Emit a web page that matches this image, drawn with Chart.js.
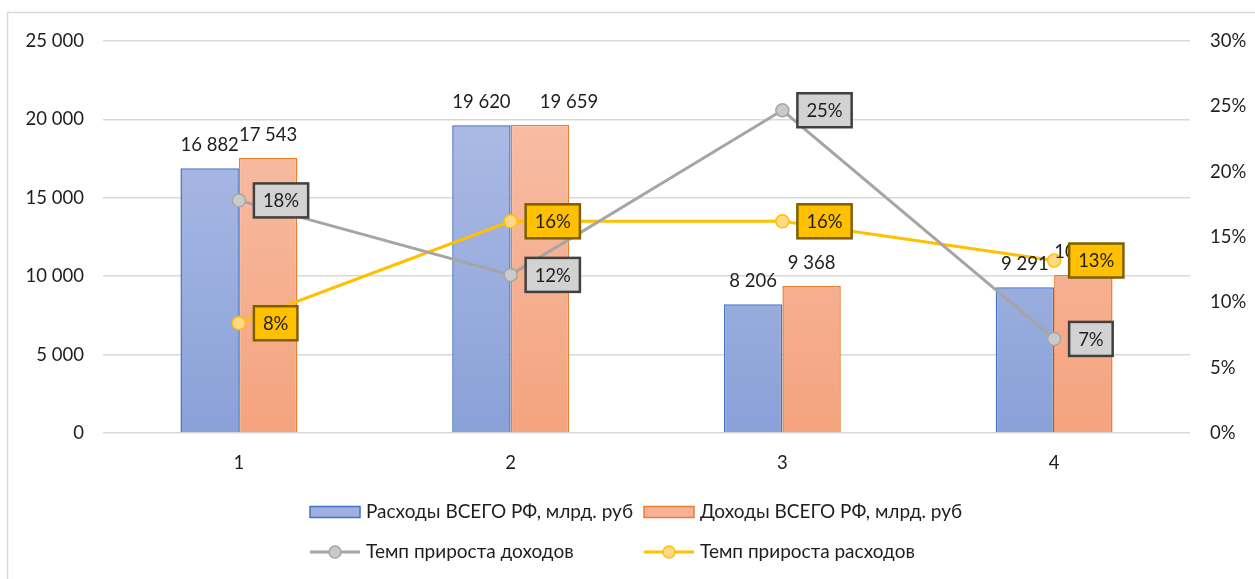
<!DOCTYPE html>
<html><head><meta charset="utf-8">
<script src="https://cdn.jsdelivr.net/npm/chart.js@4/dist/chart.umd.min.js"></script>
<style>html,body{margin:0;padding:0;background:#fff;overflow:hidden;}</style>
</head><body>
<canvas id="c" width="1255" height="579" style="width:1255px;height:579px;display:block"></canvas>
<script>
const categories = ['1', '2', '3', '4'];
const expenses = [16882, 19620, 8206, 9291];
const revenues = [17543, 19659, 9368, 10077];
const revenueGrowth = [17.8, 12.1, 24.7, 7.2];
const expenseGrowth = [8.4, 16.2, 16.2, 13.2];
const seriesNames = ['Расходы ВСЕГО РФ, млрд. руб', 'Доходы ВСЕГО РФ, млрд. руб', 'Темп прироста доходов', 'Темп прироста расходов'];
const leftTicks = [0, 5000, 10000, 15000, 20000, 25000];
const rightTicks = [0, 5, 10, 15, 20, 25, 30];

const FONT = 'Lato, "Open Sans", sans-serif';
const TXT = '#1e1e1e';
const fmt = n => String(n).replace(/\B(?=(\d{3})+(?!\d))/g, ' ');

function vGrad(ctx, area, top, bottom) {
  if (!area) return bottom;
  const g = ctx.createLinearGradient(0, area.top, 0, area.bottom);
  g.addColorStop(0, top); g.addColorStop(1, bottom);
  return g;
}

const drawPlugin = {
  id: 'extras',
  beforeDraw(chart) {
    const c = chart.ctx;
    c.save();
    c.strokeStyle = '#d9d9d9'; c.lineWidth = 1.5;
    c.beginPath(); c.moveTo(7.5, 579); c.lineTo(7.5, 12.5); c.lineTo(1255, 12.5); c.stroke();
    c.restore();
  },
  afterDatasetsDraw(chart) {
    const c = chart.ctx;
    c.save();
    // bar value labels (second label moved right when it would collide with the first)
    c.font = '18.5px ' + FONT; c.fillStyle = TXT; c.textBaseline = 'middle';
    const m0 = chart.getDatasetMeta(0), m1 = chart.getDatasetMeta(1);
    m0.data.forEach((el0, i) => {
      const el1 = m1.data[i];
      const t0 = fmt(chart.data.datasets[0].data[i]), t1 = fmt(chart.data.datasets[1].data[i]);
      const w0 = c.measureText(t0).width, w1 = c.measureText(t1).width;
      const y0 = el0.y - 23, y1 = el1.y - 23;
      c.textAlign = 'center';
      c.fillText(t0, el0.x, y0);
      const overlap = Math.abs(y0 - y1) < 6 && (el1.x - w1 / 2) < (el0.x + w0 / 2 + 6);
      if (overlap) { c.textAlign = 'left'; c.fillText(t1, el1.x, y1); }
      else { c.fillText(t1, el1.x, y1); }
    });
    // line labels boxes
    const styles = { 2: { fill: '#d2d2d2', stroke: '#404040' }, 3: { fill: '#ffc000', stroke: '#7f6000' } };
    [2, 3].forEach(di => {
      const meta = chart.getDatasetMeta(di);
      meta.data.forEach((el, i) => {
        const t = Math.round(chart.data.datasets[di].data[i]) + '%';
        c.font = '18.5px ' + FONT;
        const w = c.measureText(t).width + 18, h = 34;
        const x = el.x + 15, y = el.y - h / 2;
        c.fillStyle = styles[di].fill; c.fillRect(x, y, w, h);
        c.strokeStyle = styles[di].stroke; c.lineWidth = 2.5; c.strokeRect(x, y, w, h);
        c.fillStyle = TXT; c.textAlign = 'center'; c.textBaseline = 'middle';
        c.fillText(t, x + w / 2, y + h / 2 + 1);
      });
    });
    c.restore();
  },
  afterDraw(chart) {
    const c = chart.ctx;
    c.save();
    c.font = '19px ' + FONT; c.fillStyle = TXT; c.textAlign = 'left'; c.textBaseline = 'middle';
    const cols = [310, 644], rows = [512, 552];
    chart.data.datasets.forEach((ds, i) => {
      const x = cols[i % 2], y = rows[Math.floor(i / 2)];
      if (ds.type === 'bar') {
        c.fillStyle = i === 0 ? '#9fb0de' : '#f6b196';
        c.fillRect(x, y - 5.5, 50, 11);
        c.strokeStyle = ds.borderColor; c.lineWidth = 1.5; c.strokeRect(x, y - 5.5, 50, 11);
      } else {
        c.strokeStyle = ds.borderColor; c.lineWidth = 3;
        c.beginPath(); c.moveTo(x, y); c.lineTo(x + 50, y); c.stroke();
        c.beginPath(); c.arc(x + 25, y, 6, 0, Math.PI * 2);
        c.fillStyle = ds.pointBackgroundColor; c.fill();
        c.lineWidth = 1.5; c.strokeStyle = ds.pointBorderColor; c.stroke();
      }
      c.fillStyle = TXT;
      c.fillText(ds.label, x + 56, y);
    });
    c.restore();
  }
};

new Chart(document.getElementById('c'), {
  data: {
    labels: categories,
    datasets: [
      { type: 'bar', label: seriesNames[0], data: expenses, yAxisID: 'y', order: 2,
        backgroundColor: ctx => vGrad(ctx.chart.ctx, ctx.chart.chartArea, '#b3c0e8', '#8aa1d8'),
        borderColor: '#4472c4', borderWidth: 1.5, categoryPercentage: 0.43, barPercentage: 1 },
      { type: 'bar', label: seriesNames[1], data: revenues, yAxisID: 'y', order: 2,
        backgroundColor: ctx => vGrad(ctx.chart.ctx, ctx.chart.chartArea, '#f8c3ae', '#f4a37e'),
        borderColor: '#ed7d31', borderWidth: 1.5, categoryPercentage: 0.43, barPercentage: 1 },
      { type: 'line', label: seriesNames[2], data: revenueGrowth, yAxisID: 'y1', order: 1,
        borderColor: '#a5a5a5', borderWidth: 3, pointRadius: 6.5, pointBackgroundColor: '#cacaca',
        pointBorderColor: '#a5a5a5', pointBorderWidth: 1.5, tension: 0 },
      { type: 'line', label: seriesNames[3], data: expenseGrowth, yAxisID: 'y1', order: 1,
        borderColor: '#ffc000', borderWidth: 3, pointRadius: 6.5, pointBackgroundColor: '#ffd98a',
        pointBorderColor: '#ffc000', pointBorderWidth: 1.5, tension: 0 }
    ]
  },
  options: {
    responsive: false, animation: false, devicePixelRatio: 1,
    layout: { padding: { top: 41, bottom: 86, left: 0, right: 0 } },
    plugins: { legend: { display: false }, tooltip: { enabled: false } },
    scales: {
      x: { grid: { display: false }, border: { display: false },
        ticks: { color: TXT, font: { family: FONT, size: 18.5 }, padding: 11 },
        afterFit: s => { s.height = 60; } },
      y: { position: 'left', min: 0, max: 25000,
        afterBuildTicks: s => { s.ticks = leftTicks.map(v => ({ value: v })); },
        grid: { color: '#d9d9d9', lineWidth: 1.5, drawTicks: false }, border: { display: false },
        ticks: { color: TXT, font: { family: FONT, size: 18.5 }, padding: 19, callback: v => fmt(v) },
        afterFit: s => { s.width = 103; } },
      y1: { position: 'right', min: 0, max: 30,
        afterBuildTicks: s => { s.ticks = rightTicks.map(v => ({ value: v })); },
        grid: { display: false, drawTicks: false }, border: { display: false },
        ticks: { color: TXT, font: { family: FONT, size: 18.5 }, padding: 20, callback: v => v + '%' },
        afterFit: s => { s.width = 65; } }
    }
  },
  plugins: [drawPlugin]
});
</script>
</body></html>
